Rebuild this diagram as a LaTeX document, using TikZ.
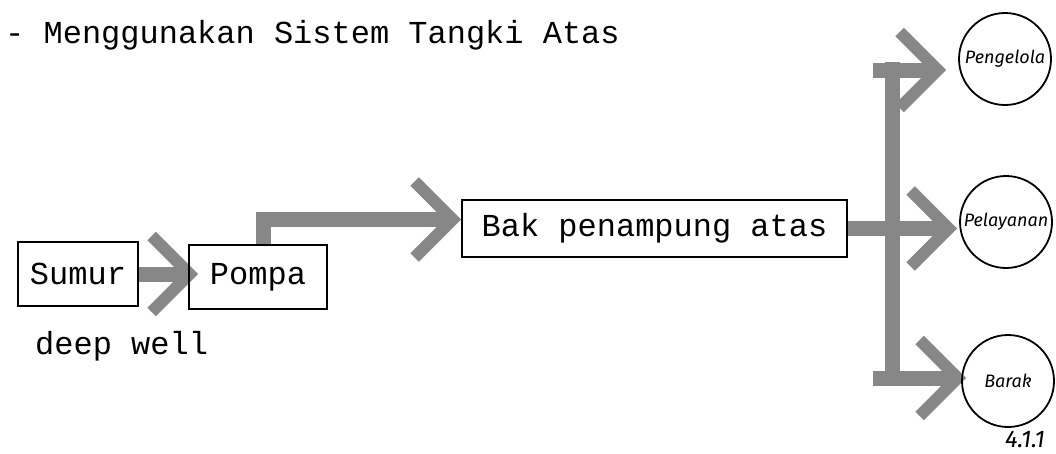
\documentclass[tikz,border=0pt]{standalone}
\usepackage{fontspec}
\setmonofont{Liberation Mono}
\newfontfamily\handfont{Fira Sans}
\usepackage{tikz}
\usetikzlibrary{arrows.meta,backgrounds}
\definecolor{flowgray}{RGB}{135,135,135}
\tikzset{
  tbox/.style={rectangle, draw, line width=1.6pt, inner sep=0pt, font=\ttfamily\fontsize{32}{36}\selectfont},
  unit/.style={circle, draw, line width=1.8pt, minimum size=92pt, inner sep=0pt, font=\handfont\itshape\fontsize{18}{20}\selectfont},
  typed/.style={inner sep=0pt, font=\ttfamily\fontsize{32}{36}\selectfont},
  band/.style={draw=flowgray, line width=15pt},
  flow/.style={band, -{Straight Barb[length=38pt, width=76pt, line width=12pt]}},
}

\begin{document}
\begin{tikzpicture}[x=1pt, y=-1pt]
  \useasboundingbox (0,0) rectangle (1056,453);

  % Title
  \node[typed, anchor=base west] (title) at (5,43) {- Menggunakan Sistem Tangki Atas};

  % Boxes
  \node[tbox, minimum width=120pt, minimum height=64pt] (sumur) at (78,274) {Sumur};
  \node[tbox, minimum width=138pt, minimum height=64pt] (pompa) at (258,277) {Pompa};
  \node[tbox, minimum width=385pt, minimum height=57pt] (bak) at (654.5,228.5) {Bak penampung atas};
  \node[typed, anchor=base west] (deep) at (35,354) {deep well};

  % Users
  \node[unit] (pengelola) at (1005,59) {Pengelola};
  \node[unit] (pelayanan) at (1006,222) {Pelayanan};
  \node[unit] (barak) at (1008,381) {Barak};

  \node[font=\handfont\itshape\fontsize{24}{26}\selectfont, anchor=base] (fig) at (1025,447) {4.1.1};

  % Flows
  \coordinate (jtop) at (873,70);
  \coordinate (jbot) at (873,378);
  \begin{scope}[on background layer]
    \draw[flow] (sumur.east) -- ([xshift=10pt]sumur.east -| pompa.west);
    \draw[flow] ([xshift=5pt]pompa.north) |- ([yshift=9pt]bak.west);
    \draw[band] (892,62) -- (892,386);
    \draw[flow] (jtop) -- ([xshift=-12pt]jtop -| pengelola.west);
    \draw[flow] (bak.east) -- ([xshift=-2pt]bak.east -| pelayanan.west);
    \draw[flow] (jbot) -- ([xshift=5pt]jbot -| barak.west);
  \end{scope}

\end{tikzpicture}
\end{document}
